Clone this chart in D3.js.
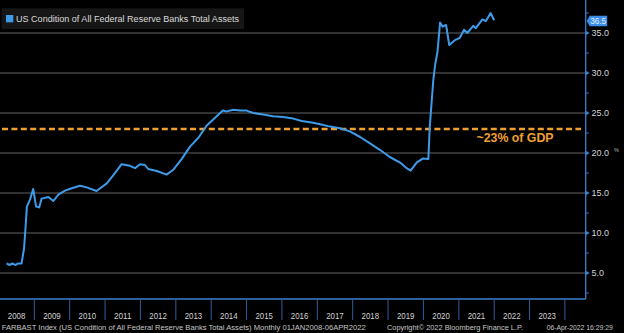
<!DOCTYPE html>
<html><head><meta charset="utf-8">
<script src="https://cdn.jsdelivr.net/npm/d3@7"></script>
<style>
html,body{margin:0;padding:0;background:#000;}
svg{display:block;}
text{font-family:"Liberation Sans",Arial,sans-serif;}
</style></head>
<body><svg id="c" width="624" height="333"></svg>
<script>
// ---- data ----
const dates = ["2008-03-20","2008-04-20","2008-05-20","2008-06-18","2008-07-20","2008-08-22","2008-09-16","2008-10-01","2008-10-16","2008-11-18","2008-12-20",
"2009-01-19","2009-02-20","2009-03-17","2009-05-26","2009-07-16","2009-09-06","2009-11-13","2010-01-22","2010-04-16","2010-06-25","2010-10-05",
"2011-01-19","2011-03-26","2011-06-21","2011-09-13","2011-11-07","2011-12-28","2012-02-17","2012-03-21","2012-06-18","2012-09-27","2012-12-05",
"2013-03-05","2013-05-27","2013-08-22","2013-11-14","2014-02-10","2014-05-01","2014-06-10","2014-08-18","2014-10-27","2015-01-01","2015-03-11",
"2015-06-21","2015-10-01","2016-01-15","2016-04-27","2016-07-23","2016-11-03","2017-01-30","2017-05-12","2017-08-22","2017-12-02","2018-03-18",
"2018-06-29","2018-10-08","2019-01-19","2019-05-05","2019-07-13","2019-08-22","2019-10-23","2019-12-24","2020-02-21","2020-03-07","2020-04-12",
"2020-05-01","2020-05-26","2020-06-21","2020-07-16","2020-08-22","2020-09-24","2020-11-21","2021-01-11","2021-02-24","2021-03-29","2021-05-30",
"2021-06-25","2021-09-02","2021-10-08","2021-11-25","2022-01-01"];
const values = [6.2,6.0,6.2,6.0,6.2,6.2,8.0,10.5,13.3,14.2,15.5,
13.3,13.2,14.3,14.5,14.0,14.8,15.3,15.6,15.9,15.7,15.25,
16.2,17.2,18.6,18.4,18.1,18.6,18.5,18.0,17.75,17.3,17.9,
19.3,20.8,21.9,23.4,24.4,25.3,25.2,25.4,25.3,25.3,25.0,
24.8,24.6,24.5,24.3,24.0,23.8,23.6,23.3,23.1,22.7,22.0,
21.2,20.4,19.5,18.8,18.1,17.8,18.8,19.3,19.25,23.3,29.1,
31.0,32.7,36.3,35.8,36.0,33.5,34.1,34.4,35.4,35.0,35.9,
35.6,36.7,36.5,37.5,36.6];
const yTicks = [5,10,15,20,25,30,35];
const yMinorTicks = [2.5,7.5,12.5,17.5,22.5,27.5,32.5,37.5];
const years = [2008,2009,2010,2011,2012,2013,2014,2015,2016,2017,2018,2019,2020,2021,2022,2023];
const gdpRefValue = 23;
const gdpRefLabel = "~23% of GDP";
const lastValue = 36.5;
const legendLabel = "US Condition of All Federal Reserve Banks Total Assets";
const footerLeft = "FARBAST Index (US Condition of All Federal Reserve Banks Total Assets)  Monthly 01JAN2008-06APR2022";
const footerMid = "Copyright\u00A9 2022 Bloomberg Finance L.P.";
const footerRight = "06-Apr-2022 16:29:29";

// ---- chart ----
const svg = d3.select("#c");
const parse = d3.timeParse("%Y-%m-%d");
const data = dates.map((d,i)=>({date:parse(d), value:values[i]}));

const axisX = 585.7, bottomY = 299;
const x = d3.scaleTime().domain([new Date(2008,0,1), new Date(2024,0,1)]).range([-1.1, 564.9]);
const y = d3.scaleLinear().domain([1.75, 39.125]).range([bottomY, 0]);

const axisColor = "#3d7fd1";
const lineColor = "#3d9be9";

// gridlines
svg.append("g").selectAll("line").data(yTicks).join("line")
  .attr("x1",0).attr("x2",axisX).attr("y1",d=>y(d)).attr("y2",d=>y(d))
  .attr("stroke","#424242").attr("stroke-width",1.5);

// reference dashed line
svg.append("line").attr("x1",2).attr("x2",581)
  .attr("y1",y(gdpRefValue)).attr("y2",y(gdpRefValue))
  .attr("stroke","#f0a030").attr("stroke-width",2.4).attr("stroke-dasharray","6,3.4");
svg.append("text").attr("x",476.5).attr("y",y(gdpRefValue)+13.3)
  .attr("fill","#f0a030").attr("font-size",12.2).attr("font-weight","bold")
  .attr("textLength",77).attr("lengthAdjust","spacingAndGlyphs").text(gdpRefLabel);

// line
svg.append("path").datum(data)
  .attr("fill","none").attr("stroke",lineColor).attr("stroke-width",2)
  .attr("stroke-linejoin","round")
  .attr("d", d3.line().x(d=>x(d.date)).y(d=>y(d.value)));

// axes lines
svg.append("line").attr("x1",0).attr("x2",axisX).attr("y1",bottomY).attr("y2",bottomY)
  .attr("stroke",axisColor).attr("stroke-width",1.3);
svg.append("line").attr("x1",axisX).attr("x2",axisX).attr("y1",0).attr("y2",bottomY)
  .attr("stroke",axisColor).attr("stroke-width",1.3);

// right ticks
svg.append("g").selectAll("path").data(yTicks).join("path")
  .attr("d",d=>`M${axisX},${y(d)-2.3}L${axisX+4},${y(d)}L${axisX},${y(d)+2.3}Z`)
  .attr("fill",axisColor);
svg.append("g").selectAll("line").data(yMinorTicks).join("line")
  .attr("x1",axisX).attr("x2",axisX+3).attr("y1",d=>y(d)).attr("y2",d=>y(d))
  .attr("stroke",axisColor).attr("stroke-width",1);
svg.append("g").selectAll("text").data(yTicks).join("text")
  .attr("x",591.5).attr("y",d=>y(d)+3.2)
  .attr("fill","#d4d4d4").attr("font-size",9)
  .text(d=>d3.format(".1f")(d));
// unit marker
svg.append("text").attr("x",614).attr("y",y(20)-1.5).attr("fill","#b0b0b0")
  .attr("font-size",5.5).text("%");

// last value label
const ly = y(lastValue);
svg.append("path")
  .attr("d",`M${axisX+1},${ly}L${axisX+4},${ly-5.3}L${axisX+21.5},${ly-5.3}L${axisX+21.5},${ly+5.3}L${axisX+4},${ly+5.3}Z`)
  .attr("fill","#3a8ee6");
svg.append("text").attr("x",axisX+4.5).attr("y",ly+3.3).attr("fill","#e6f0ff")
  .attr("font-size",9).attr("textLength",16).attr("lengthAdjust","spacingAndGlyphs")
  .text(d3.format(".1f")(lastValue));

// year separators + labels
svg.append("g").selectAll("line").data(years.slice(1).concat([2024])).join("line")
  .attr("x1",d=>x(new Date(d,0,1))).attr("x2",d=>x(new Date(d,0,1)))
  .attr("y1",bottomY).attr("y2",320)
  .attr("stroke","#2f5f9f").attr("stroke-width",1);
svg.append("g").selectAll("text").data(years).join("text")
  .attr("x",d=>x(new Date(d,6,2))).attr("y",319.3)
  .attr("text-anchor","middle").attr("fill","#d4d4d4").attr("font-size",9.3)
  .attr("textLength",17.5).attr("lengthAdjust","spacingAndGlyphs")
  .text(d=>d);

// legend
svg.append("rect").attr("x",1.7).attr("y",8.3).attr("width",242.3).attr("height",20.7).attr("fill","#161616");
svg.append("rect").attr("x",6).attr("y",15).attr("width",7.3).attr("height",7.3).attr("fill",lineColor);
svg.append("text").attr("x",16).attr("y",22.2).attr("fill","#dadada").attr("font-size",9.6)
  .attr("textLength",223).attr("lengthAdjust","spacingAndGlyphs").text(legendLabel);

// footer
svg.append("text").attr("x",1.7).attr("y",330).attr("fill","#c8c8c8").attr("font-size",7.6)
  .attr("textLength",364).attr("lengthAdjust","spacingAndGlyphs").text(footerLeft);
svg.append("text").attr("x",387).attr("y",330).attr("fill","#c8c8c8").attr("font-size",7.6)
  .attr("textLength",136).attr("lengthAdjust","spacingAndGlyphs").text(footerMid);
svg.append("text").attr("x",546.7).attr("y",330).attr("fill","#c8c8c8").attr("font-size",7.6)
  .attr("textLength",66).attr("lengthAdjust","spacingAndGlyphs").text(footerRight);
</script></body></html>
